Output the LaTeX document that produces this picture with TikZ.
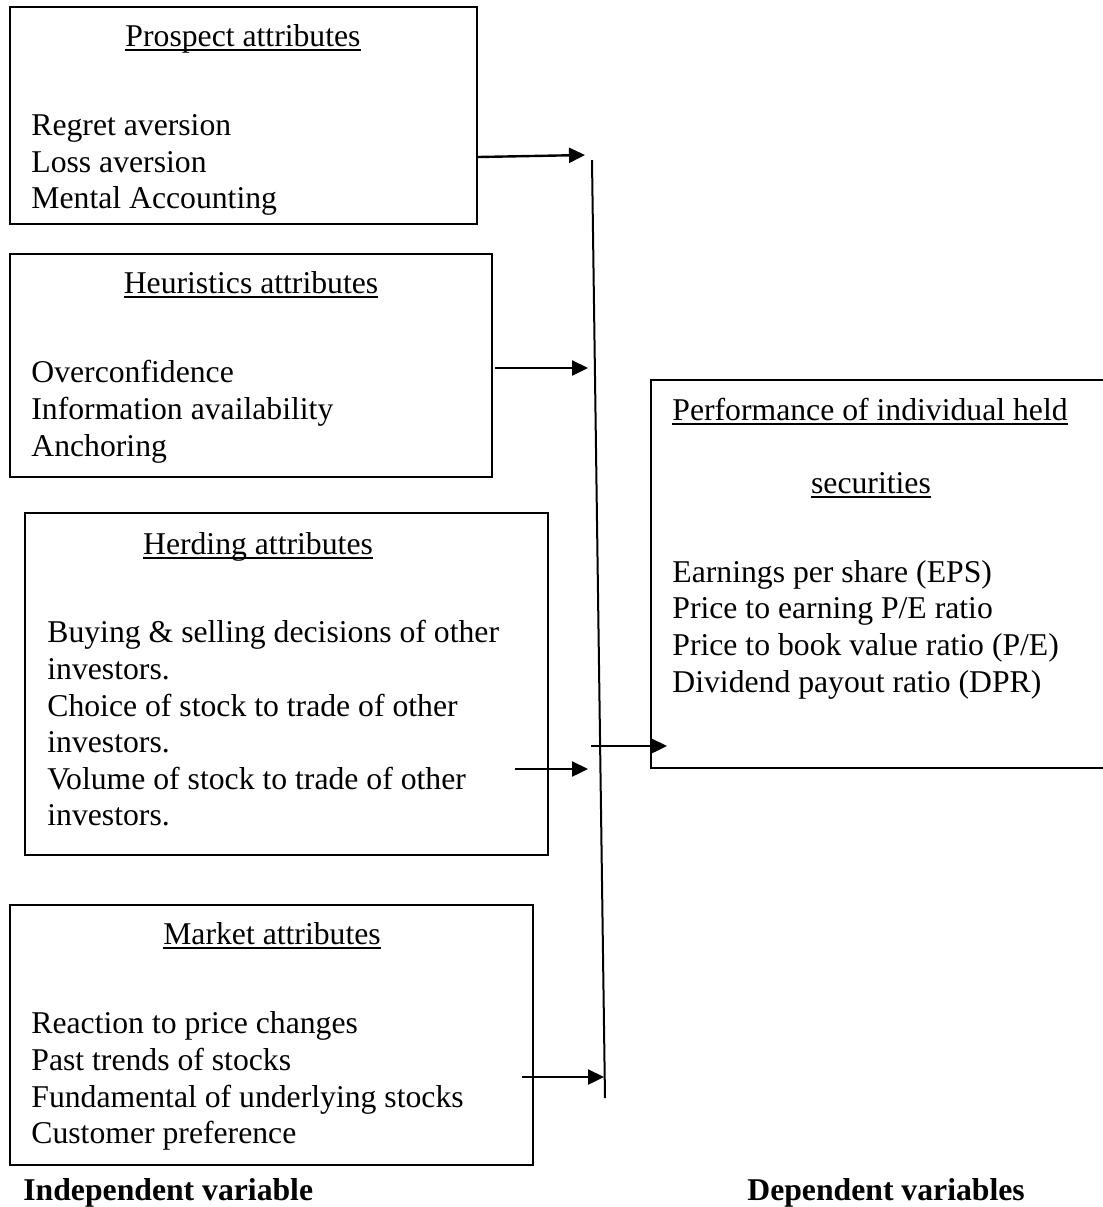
\documentclass[tikz,border=0pt]{standalone}
\usepackage{fontspec}
\setmainfont{Liberation Serif}
\usetikzlibrary{arrows.meta,fit}
\newcommand\myul[1]{\setbox0\hbox{#1}\rlap{\rule[-2.4pt]{\wd0}{0.9pt}}\box0}
\tikzset{
  box/.style={draw, line width=1pt, inner sep=0pt, rectangle},
  txt/.style={anchor=base west, inner sep=0pt, font=\fontsize{15.85}{18}\selectfont},
  ttl/.style={anchor=base, inner sep=0pt, font=\fontsize{15.85}{18}\selectfont},
  lbl/.style={anchor=base west, inner sep=0pt, font=\fontsize{15.85}{18}\selectfont\bfseries},
  arr/.style={line width=1.2pt, -{Triangle[length=8pt,width=7.5pt]}},
  vline/.style={line width=1pt}
}
\begin{document}
\begin{tikzpicture}[x=0.5pt,y=-0.5pt]
\useasboundingbox (0,0) rectangle (1103,1207);
\clip (0,0) rectangle (1103,1207);
\fill[white] (0,0) rectangle (1103,1207);

% Prospect attributes
\node[box, fit={(10,7) (477,224)}] (pbox) {};
\node[ttl] (pt) at (243,46) {\myul{Prospect attributes}};
\node[txt] (p1) at (31,135) {Regret aversion};
\node[txt] (p2) at (31,172) {Loss aversion};
\node[txt] (p3) at (31,208) {Mental Accounting};

% Heuristics attributes
\node[box, fit={(10,254) (492,477)}] (hbox) {};
\node[ttl] (ht) at (251,293) {\myul{Heuristics attributes}};
\node[txt] (h1) at (31,382) {Overconfidence};
\node[txt] (h2) at (31,419) {Information availability};
\node[txt] (h3) at (31,456) {Anchoring};

% Herding attributes
\node[box, fit={(25,513) (548,855)}] (gbox) {};
\node[ttl] (gt) at (258,554) {\myul{Herding attributes}};
\node[txt] (g1) at (47,642) {Buying \& selling decisions of other};
\node[txt] (g2) at (47,679) {investors.};
\node[txt] (g3) at (47,716) {Choice of stock to trade of other};
\node[txt] (g4) at (47,752) {investors.};
\node[txt] (g5) at (47,789) {Volume of stock to trade of other};
\node[txt] (g6) at (47,825) {investors.};

% Market attributes
\node[box, fit={(10,905) (533,1165)}] (mbox) {};
\node[ttl] (mt) at (272,944) {\myul{Market attributes}};
\node[txt] (m1) at (31,1033) {Reaction to price changes};
\node[txt] (m2) at (31,1070) {Past trends of stocks};
\node[txt] (m3) at (31,1107) {Fundamental of underlying stocks};
\node[txt] (m4) at (31,1143) {Customer preference};

% Performance box
\node[box, fit={(651,380) (1120,768)}] (rbox) {};
\node[txt] (rt1) at (672,420) {\myul{Performance of individual held}};
\node[ttl] (rt2) at (871,493) {\myul{securities}};
\node[txt] (r1) at (672,582) {Earnings per share (EPS)};
\node[txt] (r2) at (672,618) {Price to earning P/E ratio};
\node[txt] (r3) at (672,655) {Price to book value ratio (P/E)};
\node[txt] (r4) at (672,692) {Dividend payout ratio (DPR)};

% Labels
\node[lbl] (iv) at (23,1200) {Independent variable};
\node[lbl] (dv) at (747,1200) {Dependent variables};

% Vertical collector line
\coordinate (vt) at (592,160);
\coordinate (vb) at (605,1098);
\draw[vline] (vt) -- (vb);

% Arrows
\coordinate (a1s) at (478,157);
\coordinate (a1e) at (585,155);
\coordinate (a2s) at (495,368);
\coordinate (a2e) at (588,368);
\coordinate (a3s) at (515,769);
\coordinate (a3e) at (588,769);
\coordinate (a4s) at (591,746);
\coordinate (a4e) at (667,746);
\coordinate (a5s) at (522,1077);
\coordinate (a5e) at (604,1077);
\draw[arr] (a1s) -- (a1e);
\draw[arr] (a2s) -- (a2e);
\draw[arr] (a3s) -- (a3e);
\draw[arr] (a4s) -- (a4e);
\draw[arr] (a5s) -- (a5e);
\end{tikzpicture}
\end{document}
